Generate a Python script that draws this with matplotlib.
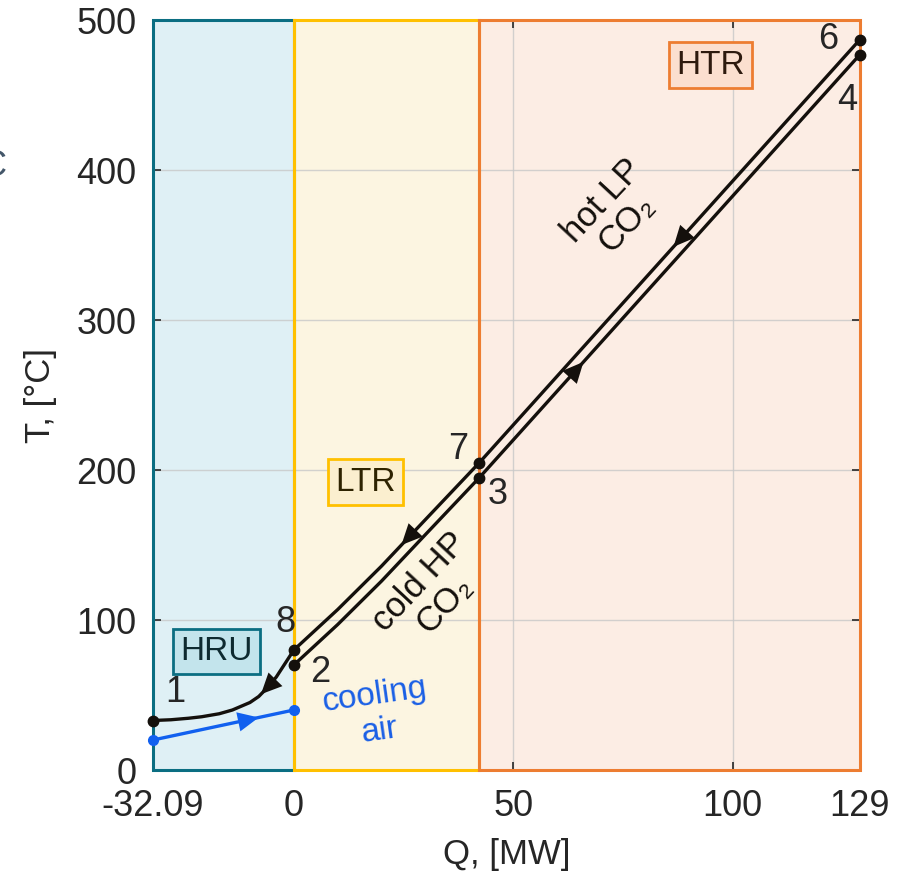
import numpy as np
import matplotlib
matplotlib.use("Agg")
import matplotlib.pyplot as plt
from matplotlib.patches import Rectangle

plt.rcParams['font.family'] = ['Liberation Sans', 'DejaVu Sans']

# ---- data ----
Q_MIN, Q_LTR, Q_HTR, Q_MAX = -32.09, 0.0, 42.3, 129.0
xticks = [-32.09, 0, 50, 100, 129]
xticklabels = ['-32.09', '0', '50', '100', '129']
yticks = [0, 100, 200, 300, 400, 500]

# hot LP CO2 (points 6 -> 7 -> 8 -> 1)
hot_Q = [-32.09, -28, -24, -21, -17, -14, -10, -8, -6, -4, -2, 0,
         10, 20, 30, 42.3, 129]
hot_T = [33, 33.5, 34.5, 35.5, 37.5, 40, 45, 49, 55, 62, 71, 80,
         107, 136, 167, 205, 487]
# cold HP CO2 (points 2 -> 3 -> 4)
cold_Q = [0, 10, 20, 30, 42.3, 129]
cold_T = [70, 97, 126, 157, 195, 477]
# cooling air
air_Q = [-32.09, 0]
air_T = [20, 40]

points = {'1': (-32.09, 33), '8': (0, 80), '2': (0, 70),
          '7': (42.3, 205), '3': (42.3, 195), '6': (129, 487), '4': (129, 477)}

fig = plt.figure(figsize=(9.07, 8.74), dpi=100)
ax = fig.add_axes([153/907, 1-770/874, (860-153)/907, 750/874])

ax.set_xlim(Q_MIN, Q_MAX)
ax.set_ylim(0, 500)

regions = [
    (Q_MIN, Q_LTR, '#dff0f5', '#0b6e82'),
    (Q_LTR, Q_HTR, '#fcf5e1', '#ffc000'),
    (Q_HTR, Q_MAX, '#fcede4', '#ed7d31'),
]
for x0, x1, fc, ec in regions:
    ax.add_patch(Rectangle((x0, 0), x1-x0, 500, facecolor=fc, edgecolor='none', zorder=0))
for x0, x1, fc, ec in regions:
    ax.add_patch(Rectangle((x0, 0), x1-x0, 500, facecolor='none', edgecolor=ec,
                           lw=2.2, zorder=2.7, clip_on=False))

ax.set_axisbelow(False)
ax.grid(True, color='#c8c8c8', lw=1.0, alpha=0.8, zorder=1)
for gl in ax.get_xgridlines() + ax.get_ygridlines():
    gl.set_zorder(1)

ax.set_xticks(xticks)
ax.set_xticklabels(xticklabels)
ax.set_yticks(yticks)
ax.tick_params(direction='in', length=6, width=1.2, top=True, right=True,
               labelsize=26, colors='#262626')
ax.tick_params(axis='x', pad=14)
ax.tick_params(axis='y', pad=12)
for s in ax.spines.values():
    s.set_color('#262626')
    s.set_linewidth(1.2)

ax.set_xlabel('Q, [MW]', fontsize=25, color='#262626', labelpad=10)
ax.set_ylabel('T, [°C]', fontsize=25, color='#262626', labelpad=14)

lw = 2.4
ax.plot(hot_Q, hot_T, color='#14100c', lw=lw, zorder=4, solid_capstyle='round')
ax.plot(cold_Q, cold_T, color='#14100c', lw=lw, zorder=4, solid_capstyle='round')
ax.plot(air_Q, air_T, color='#1160ef', lw=lw, zorder=4, marker='o', ms=7, clip_on=False)

for k, (q, t) in points.items():
    ax.plot(q, t, 'o', color='#14100c', ms=7.5, zorder=5, clip_on=False)

def arrow(qs, ts, q, direction, color):
    d = 1.5 * direction
    t0 = np.interp(q - d, qs, ts)
    t1 = np.interp(q, qs, ts)
    ax.annotate('', xy=(q, t1), xytext=(q - d, t0),
                arrowprops=dict(arrowstyle='-|>,head_length=0.75,head_width=0.35',
                                color=color, lw=0, shrinkA=0, shrinkB=0,
                                mutation_scale=20), zorder=6)

arrow(hot_Q, hot_T, 86.5, -1, '#14100c')
arrow(cold_Q, cold_T, 66.0, 1, '#14100c')
arrow(hot_Q, hot_T, 24.5, -1, '#14100c')
arrow(hot_Q, hot_T, -7.5, -1, '#14100c')
arrow(air_Q, air_T, -8.0, 1, '#1160ef')

lbl = dict(fontsize=26, color='#262626', ha='center', va='center', zorder=7)
ax.text(-27, 52, '1', **lbl)
ax.text(-2, 98, '8', **lbl)
ax.text(6.0, 65, '2', **lbl)
ax.text(37.5, 214, '7', **lbl)
ax.text(46.5, 184, '3', **lbl)
ax.text(121.8, 487, '6', **lbl)
ax.text(126, 446, '4', **lbl)

ax.text(73.0, 372, 'hot LP\nCO₂', fontsize=25, color='#14100c', rotation=47,
        ha='center', va='center', linespacing=1.0, rotation_mode='anchor', zorder=7)
ax.text(31.5, 118, 'cold HP\nCO₂', fontsize=25, color='#14100c', rotation=47,
        ha='center', va='center', linespacing=1.0, rotation_mode='anchor', zorder=7)
ax.text(19, 38, 'cooling\nair', fontsize=24, color='#1a5fe6', rotation=8,
        ha='center', va='center', linespacing=1.2, rotation_mode='anchor', zorder=7)

def boxlabel(q, t, s, fc, ec, tc):
    ax.text(q, t, s, fontsize=24, color=tc, ha='center', va='center', zorder=7,
            bbox=dict(boxstyle='square,pad=0.22', facecolor=fc, edgecolor=ec, lw=2))

boxlabel(-17.7, 79, 'HRU', '#c3e4ec', '#0b6e82', '#0e2a30')
boxlabel(16.4, 192, 'LTR', '#fbefcf', '#ffc000', '#2e2300')
boxlabel(95.0, 470, 'HTR', '#fbdfcf', '#ed7d31', '#2e1a0e')

fig.text(-0.022, 0.809, 'C', fontsize=26, color='#44576a', ha='left', va='center')

fig.savefig('out.png', dpi=100)
